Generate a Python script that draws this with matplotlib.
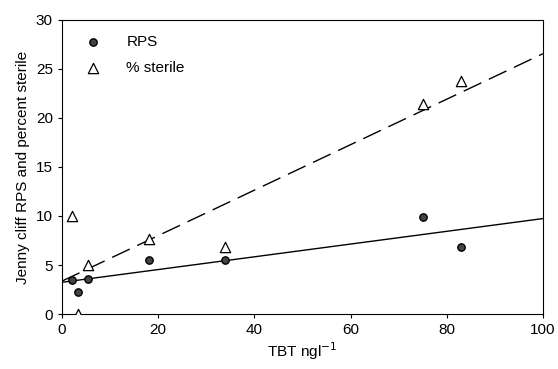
import numpy as np
import matplotlib
matplotlib.use("Agg")
import matplotlib.pyplot as plt

plt.rcParams['font.family'] = ['Liberation Sans', 'DejaVu Sans']

# TBT concentration (ng/l)
tbt = [2.0, 3.3, 5.5, 18.0, 34.0, 75.0, 83.0]
rps = [3.5, 2.2, 3.6, 5.5, 5.5, 9.9, 6.8]
sterile = [10.0, 0.0, 5.0, 7.7, 6.8, 21.4, 23.8]

fig = plt.figure(figsize=(5.58, 3.69), dpi=100)
ax = fig.add_axes([0.111, 0.149, 0.862, 0.797])

# linear fits
xs = np.array([0, 100])
b1 = np.polyfit(tbt, rps, 1)
b2 = np.polyfit(tbt, sterile, 1)
ax.plot(xs, np.polyval(b1, xs), color='black', lw=1.0)
ax.plot(xs, np.polyval(b2, xs), color='black', lw=1.0, dashes=(14, 6))

ax.scatter(tbt, rps, s=28, facecolor='#444444', edgecolor='black', lw=1.0,
           label='RPS', zorder=3)
ax.scatter(tbt, sterile, s=55, marker='^', facecolor='white', edgecolor='black',
           lw=0.9, label='% sterile', zorder=3)

ax.set_xlim(0, 100)
ax.set_ylim(0, 30)
ax.set_xticks([0, 20, 40, 60, 80, 100])
ax.set_yticks([0, 5, 10, 15, 20, 25, 30])
ax.tick_params(direction='out', length=3, labelsize=11, width=0.8)
for s in ax.spines.values():
    s.set_linewidth(0.8)

ax.set_xlabel('TBT ngl$^{-1}$', fontsize=11, labelpad=2)
ax.set_ylabel('Jenny cliff RPS and percent sterile', fontsize=11, labelpad=4)

ax.legend(loc='upper left', frameon=False, fontsize=11, handletextpad=1.4,
          borderaxespad=0.6, labelspacing=0.75, handlelength=1.5,
          bbox_to_anchor=(0.01, 1.0))

fig.savefig('out.png', dpi=100)
